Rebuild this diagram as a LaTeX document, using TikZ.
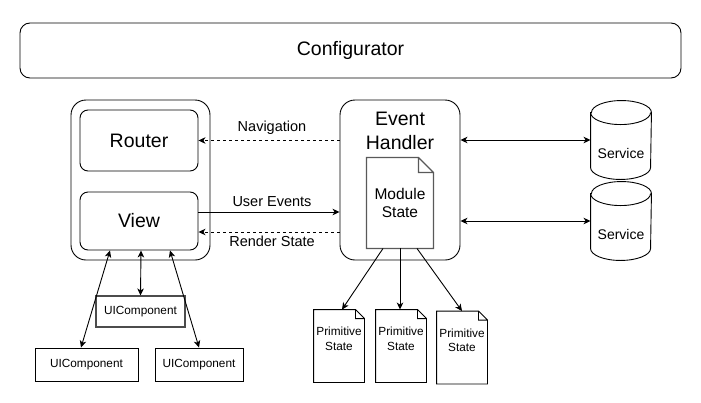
\documentclass[tikz,border=0pt]{standalone}
\usepackage{fontspec}
\setmainfont{Liberation Sans}
\usetikzlibrary{arrows.meta,positioning}

% outline of a note with a folded top right corner
\newcommand\notebox[3][]{%
  \draw[#1] (#2.north west) -- ([xshift=-#3]#2.north east) -- ([yshift=-#3]#2.north east)
    -- (#2.south east) -- (#2.south west) -- cycle
    ([xshift=-#3]#2.north east) |- ([yshift=-#3]#2.north east);}

\begin{document}
\begin{tikzpicture}[x=1pt, y=-1pt, line width=0.9pt,
    >={Stealth[length=7pt,width=6.5pt,inset=2pt]},
    every node/.style={inner sep=0pt},
    rbox/.style={draw, rounded corners=#1},
    rbox/.default=8pt,
    big/.style={font=\fontsize{19.5}{24}\selectfont},
    mid/.style={font=\fontsize{15.5}{18}\selectfont},
    svc/.style={font=\fontsize{14}{16}\selectfont},
    lbl/.style={font=\fontsize{14.5}{16}\selectfont},
    small/.style={font=\fontsize{11.8}{14.5}\selectfont},
    feedback/.style={->, dash pattern=on 3pt off 3pt}]
    \useasboundingbox (0,0) rectangle (701,402);

    % Configurator
    \node[rbox=10pt, minimum width=661pt, minimum height=55pt, big] (conf) at (350.5,50.5) {Configurator};

    % Router and View
    \node[rbox=15pt, minimum width=139pt, minimum height=160pt] (ui) at (140.5,180) {};
    \node[rbox, minimum width=118pt, minimum height=61pt, big] (router) at (139,140.5) {Router};
    \node[rbox, minimum width=118pt, minimum height=58pt, big] (view) at (139,221) {View};

    % Event handler with module state
    \node[rbox=15pt, minimum width=120pt, minimum height=160pt] (handler) at (400,180) {};
    \node[big, align=center] (handlertext) at (400,131) {Event\\Handler};
    \node[mid, align=center, minimum width=66pt, minimum height=90pt] (modstate) at (400,203) {Module\\State};
    \notebox[draw=black!65, line width=1.2pt]{modstate}{15pt}

    % Services
    \foreach \name/\y in {srvA/140, srvB/221} {
        \node[minimum width=60pt, minimum height=78pt] (\name) at (621,\y) {};
        \draw ([yshift=-12pt]\name.north west) -- ([yshift=12pt]\name.south west)
            arc[start angle=180, end angle=360, x radius=30pt, y radius=12pt]
            -- ([yshift=-12pt]\name.north east)
            arc[start angle=0, end angle=180, x radius=30pt, y radius=12pt] -- cycle;
        \draw ([yshift=-12pt]\name.north west) arc[start angle=180, end angle=360, x radius=30pt, y radius=12pt];
        \node[svc] (\name-txt) at ([yshift=-13pt]\name.center) {Service};
        \draw[<->] (handler.east |- \name) -- (\name.west);
    }

    % View <-> event handler
    \coordinate (ue) at ([yshift=9pt]view.east);
    \coordinate (rs) at ([yshift=-11pt]view.east);
    \draw[feedback] (handler.west |- router) -- (router.east);
    \draw[->] (ue) -- (ue -| handler.west);
    \draw[feedback] (rs -| handler.west) -- (rs);
    \node[lbl] (navlbl) at (272,128) {Navigation};
    \node[lbl] (uelbl) at (272,202) {User Events};
    \node[lbl] (rslbl) at (272,241) {Render State};

    % UI components
    \node[draw=black!70, line width=1.1pt, small, minimum width=89pt, minimum height=31pt] (uicB) at (140.5,311.5) {UIComponent};
    \node[draw, small, minimum width=103pt, minimum height=33pt] (uicA) at (86.5,364.5) {UIComponent};
    \node[draw, small, minimum width=88pt, minimum height=33pt] (uicC) at (199,364.5) {UIComponent};
    \draw[<->] ([xshift=-29pt]view.south) -- ([xshift=-5.5pt]uicA.north);
    \draw[<->] ([xshift=2pt]view.south) -- (uicB.north);
    \draw[<->] ([xshift=31pt]view.south) -- (uicC.north);

    % Primitive states
    \foreach \i/\x/\y/\from/\to in {1/339/346/-17/3, 2/401/346/0/-1, 3/462/347.5/17/0} {
        \node[minimum width=50pt, minimum height=72pt] (prim\i) at (\x,\y) {};
        \notebox{prim\i}{9pt}
        \node[small, align=center] (prim\i-txt) at ([yshift=7pt]prim\i.center) {Primitive\\State};
        \draw[->] ([xshift=\from pt]modstate.south) -- ([xshift=\to pt]prim\i.north);
    }
\end{tikzpicture}
\end{document}
